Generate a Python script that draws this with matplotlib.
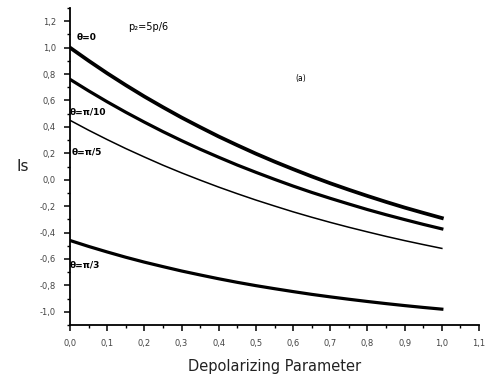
# imports
import matplotlib
matplotlib.use("Agg")
import matplotlib.pyplot as plt
from matplotlib.ticker import MultipleLocator, FuncFormatter

# data (every 0.05)
depol = [0.0, 0.05, 0.1, 0.15, 0.2, 0.25, 0.3, 0.35, 0.4, 0.45, 0.5,
         0.55, 0.6, 0.65, 0.7, 0.75, 0.8, 0.85, 0.9, 0.95, 1.0]
is_theta0 = [1.000, 0.901, 0.806, 0.716, 0.630, 0.549, 0.471, 0.398, 0.327, 0.261, 0.197,
             0.137, 0.080, 0.025, -0.027, -0.076, -0.123, -0.168, -0.211, -0.251, -0.290]
is_pi10 = [0.760, 0.673, 0.590, 0.511, 0.436, 0.364, 0.296, 0.231, 0.170, 0.111, 0.056,
           0.003, -0.048, -0.096, -0.141, -0.184, -0.226, -0.265, -0.302, -0.338, -0.372]
is_pi5 = [0.450, 0.375, 0.304, 0.236, 0.172, 0.110, 0.052, -0.003, -0.056, -0.106, -0.154,
          -0.199, -0.243, -0.284, -0.323, -0.360, -0.395, -0.429, -0.461, -0.491, -0.520]
is_pi3 = [-0.460, -0.505, -0.547, -0.587, -0.624, -0.658, -0.691, -0.721, -0.750, -0.777, -0.802,
          -0.825, -0.847, -0.868, -0.887, -0.905, -0.922, -0.938, -0.953, -0.967, -0.980]

fig = plt.figure(figsize=(4.88, 3.78), dpi=100)
ax = fig.add_axes([0.1434, 0.1402, 0.8382, 0.8386])

ax.plot(depol, is_theta0, color="black", lw=2.7)
ax.plot(depol, is_pi10, color="black", lw=2.3)
ax.plot(depol, is_pi5, color="black", lw=1.1)
ax.plot(depol, is_pi3, color="black", lw=2.3)

# curve labels
lab_kw = dict(fontsize=6.5, fontweight="bold", va="center", ha="left")
ax.text(0.019, 1.08, "θ=0", **lab_kw)
ax.text(0.0, 0.51, "θ=π/10", **lab_kw)
ax.text(0.005, 0.21, "θ=π/5", **lab_kw)
ax.text(0.0, -0.645, "θ=π/3", **lab_kw)
ax.text(0.156, 1.16, "p₂=5p/6", fontsize=7, va="center", ha="left")
ax.text(0.62, 0.77, "(a)", fontsize=5.5, va="center", ha="center")

# axes look
ax.set_xlim(0, 1.1)
ax.spines["top"].set_visible(False)
ax.spines["right"].set_visible(False)
ax.spines["left"].set_linewidth(1.3)
ax.spines["bottom"].set_linewidth(1.3)

ax.xaxis.set_major_locator(MultipleLocator(0.1))
ax.xaxis.set_minor_locator(MultipleLocator(0.05))
ax.yaxis.set_minor_locator(MultipleLocator(0.1))

comma = FuncFormatter(lambda v, pos: f"{v:.1f}".replace(".", ",").replace("-0,0", "0,0"))
ax.xaxis.set_major_formatter(comma)
ax.yaxis.set_major_formatter(comma)
ax.set_yticks([t / 10 for t in range(-10, 13, 2)])
ax.set_ylim(-1.1, 1.3)

ax.tick_params(which="major", direction="out", length=4, width=1.1,
               labelsize=6, labelcolor="#444444", pad=6)
ax.tick_params(which="minor", direction="out", length=2.5, width=1.0)

ax.set_xlabel("Depolarizing Parameter", fontsize=10.5, color="#222222", labelpad=8)
ax.set_ylabel("Is", fontsize=11, rotation=0, color="#222222", labelpad=12, va="center")

plt.savefig("out.png", dpi=100)
plt.close()
